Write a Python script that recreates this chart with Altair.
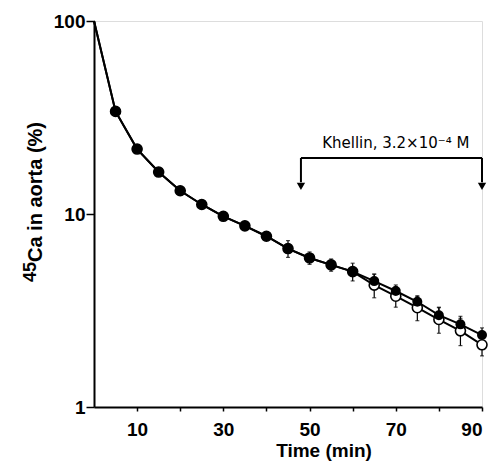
import altair as alt
import pandas as pd

# ---- data ----
times = [0, 5, 10, 15, 20, 25, 30, 35, 40, 45, 50, 55, 60, 65, 70, 75, 80, 85, 90]
control = [100, 34.0, 21.7, 16.5, 13.2, 11.2, 9.73, 8.68, 7.67, 6.62, 5.92, 5.45,
           5.03, 4.49, 3.99, 3.51, 2.99, 2.68, 2.36]
khellin = [100, 34.0, 21.7, 16.5, 13.2, 11.2, 9.73, 8.68, 7.67, 6.62, 5.92, 5.45,
           5.03, 4.28, 3.75, 3.27, 2.84, 2.48, 2.10]

sem_times_control = [45, 50, 55, 60, 65, 70, 75, 80, 85, 90]
sem_control = [0.66, 0.44, 0.40, 0.53, 0.39, 0.30, 0.26, 0.30, 0.27, 0.21]
sem_times_khellin = [65, 70, 75, 80, 85, 90]
sem_khellin = [0.60, 0.46, 0.47, 0.43, 0.40, 0.26]

# treatment bracket (time span and levels on the % axis)
bracket_times = [48, 90]
bracket_level = 19.5
bracket_stem_end = 14.6
arrow_level = 13.9
label_time = 70.0
label_level = 23.3
label_text = "Khellin,  3.2\u00d710\u207b\u2074 M"

x_tick_values = [10, 20, 30, 40, 50, 60, 70, 80, 90]
y_tick_values = [1, 10, 100]

# ---- tables ----
df_c = pd.DataFrame({"t": times, "v": control})
df_k = pd.DataFrame({"t": times, "v": khellin})
df_c_pts = df_c[df_c.t > 0]
df_k_pts = df_k[df_k.t > 0]

ctrl_map = dict(zip(times, control))
khel_map = dict(zip(times, khellin))
err_c = pd.DataFrame({"t": sem_times_control,
                      "lo": [ctrl_map[t] - e for t, e in zip(sem_times_control, sem_control)],
                      "hi": [ctrl_map[t] + e for t, e in zip(sem_times_control, sem_control)]})
err_k = pd.DataFrame({"t": sem_times_khellin,
                      "lo": [khel_map[t] - e for t, e in zip(sem_times_khellin, sem_khellin)],
                      "hi": [khel_map[t] + e for t, e in zip(sem_times_khellin, sem_khellin)]})
err = pd.concat([err_c, err_k], ignore_index=True)

FONT = "Liberation Sans"

xscale = alt.Scale(domain=[0, 90], nice=False, zero=False)
yscale = alt.Scale(type="log", domain=[1, 100], nice=False)

x_axis = alt.Axis(values=x_tick_values,
                  labelExpr="datum.value % 20 == 10 ? datum.label : ''",
                  title=None, grid=False, domainColor="black", domainWidth=2,
                  tickColor="black", tickSize=4, tickWidth=1.5, labelPadding=9,
                  labelFont=FONT, labelFontSize=19, labelFontWeight="bold",
                  labelColor="black")
y_axis = alt.Axis(values=y_tick_values, format="d", title=None, grid=False,
                  domainColor="black", domainWidth=2, tickColor="black",
                  tickSize=8, tickWidth=1.5, labelPadding=1,
                  labelFont=FONT, labelFontSize=19, labelFontWeight="bold",
                  labelColor="black")

X = alt.X("t:Q", scale=xscale, axis=x_axis)
Y = alt.Y("v:Q", scale=yscale, axis=y_axis)

line_k = alt.Chart(df_k).mark_line(color="black", strokeWidth=2).encode(x=X, y=Y)
line_c = alt.Chart(df_c).mark_line(color="black", strokeWidth=2).encode(x=X, y=Y)

bars = alt.Chart(err).mark_rule(color="black", strokeWidth=1.2).encode(
    x=alt.X("t:Q", scale=xscale), y=alt.Y("lo:Q", scale=yscale), y2="hi:Q")
caps_lo = alt.Chart(err).mark_tick(color="black", size=4, thickness=1.2,
                                   orient="horizontal").encode(
    x=alt.X("t:Q", scale=xscale), y=alt.Y("lo:Q", scale=yscale))
caps_hi = alt.Chart(err).mark_tick(color="black", size=4, thickness=1.2,
                                   orient="horizontal").encode(
    x=alt.X("t:Q", scale=xscale), y=alt.Y("hi:Q", scale=yscale))

pts_k = alt.Chart(df_k_pts).mark_point(shape="circle", size=100, filled=True,
                                       fill="white", stroke="black",
                                       strokeWidth=1.6, opacity=1).encode(x=X, y=Y)
pts_c = alt.Chart(df_c_pts).mark_point(shape="circle", size=100, filled=True,
                                       color="black", opacity=1).encode(x=X, y=Y)

# bracket annotation
br = pd.DataFrame({"t0": [bracket_times[0]], "t1": [bracket_times[1]], "v": [bracket_level]})
br_h = alt.Chart(br).mark_rule(color="black", strokeWidth=2).encode(
    x=alt.X("t0:Q", scale=xscale), x2="t1:Q", y=alt.Y("v:Q", scale=yscale))
stems = pd.DataFrame({"t": bracket_times, "a": [bracket_level] * 2,
                      "b": [bracket_stem_end] * 2, "c": [arrow_level] * 2})
br_v = alt.Chart(stems).mark_rule(color="black", strokeWidth=2).encode(
    x=alt.X("t:Q", scale=xscale), y=alt.Y("a:Q", scale=yscale), y2="b:Q")
arrows = alt.Chart(stems).mark_point(shape="triangle-down", size=70, filled=True,
                                     color="black", opacity=1).encode(
    x=alt.X("t:Q", scale=xscale), y=alt.Y("c:Q", scale=yscale))
lbl = alt.Chart(pd.DataFrame({"t": [label_time], "v": [label_level],
                              "s": [label_text]})).mark_text(
    font="DejaVu Sans", fontSize=15, color="black", align="center",
    baseline="middle"
).encode(x=alt.X("t:Q", scale=xscale), y=alt.Y("v:Q", scale=yscale), text="s:N")

# axis titles
xt = alt.Chart(pd.DataFrame({"s": ["Time (min)"]})).mark_text(
    font=FONT, fontSize=19, fontWeight="bold", color="black",
    align="center", baseline="middle").encode(
    x=alt.value(230), y=alt.value(430), text="s:N")
yt_main = alt.Chart(pd.DataFrame({"s": ["Ca in aorta (%)"]})).mark_text(
    font=FONT, fontSize=20, fontWeight="bold", color="black", angle=270,
    align="left", baseline="middle").encode(
    x=alt.value(-58), y=alt.value(241), text="s:N")
yt_sup = alt.Chart(pd.DataFrame({"s": ["45"]})).mark_text(
    font=FONT, fontSize=18, fontWeight="bold", color="black", angle=270,
    align="left", baseline="middle").encode(
    x=alt.value(-63), y=alt.value(261), text="s:N")

chart = alt.layer(
    line_k, line_c, bars, caps_lo, caps_hi, pts_k, pts_c,
    br_h, br_v, arrows, lbl, xt, yt_main, yt_sup
).properties(
    width=388, height=386,
    autosize=alt.AutoSizeParams(type="none"),
    padding={"left": 86, "top": 13, "right": 8, "bottom": 57},
).configure_view(stroke=None).configure(background="white")

chart.save("out.html", embed_options={"renderer": "svg", "actions": False})
